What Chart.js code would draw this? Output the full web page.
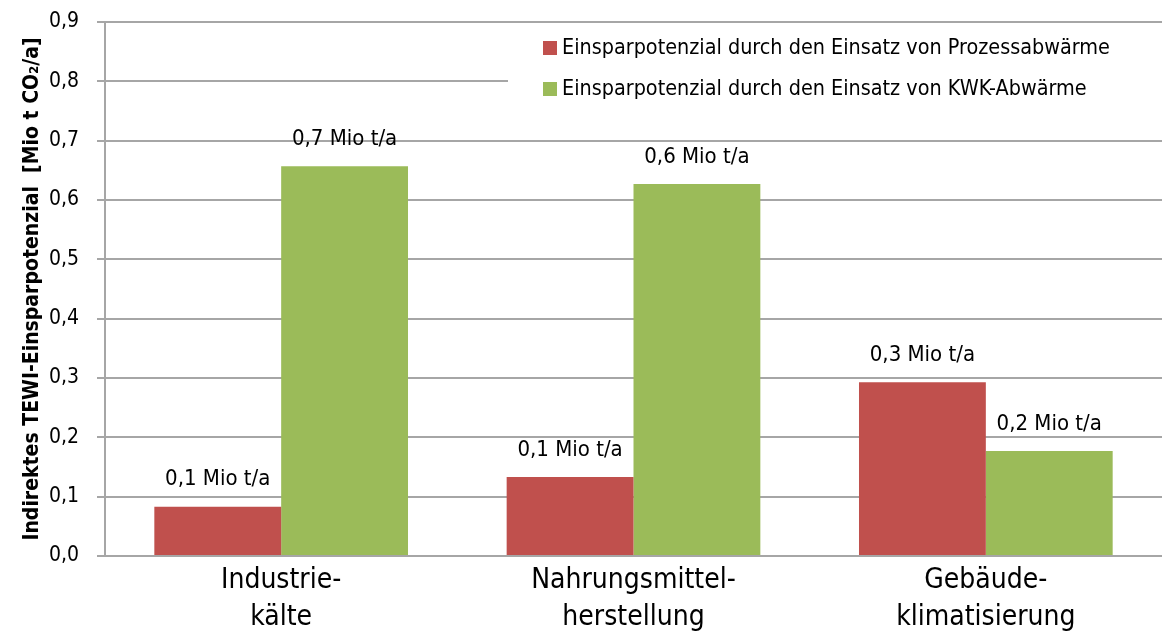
<!DOCTYPE html>
<html>
<head>
<meta charset="utf-8">
<script src="https://cdn.jsdelivr.net/npm/chart.js@4"></script>
<style>
  html, body { margin: 0; padding: 0; background: #fff; }
  #wrap { width: 1162px; height: 634px; position: relative; }
</style>
</head>
<body>
<div id="wrap"><canvas id="c"></canvas></div>
<script>
// --- DATEN ---
const categories = [['Industrie-', 'kälte'], ['Nahrungsmittel-', 'herstellung'], ['Gebäude-', 'klimatisierung']];
const seriesNames = [
  'Einsparpotenzial durch den Einsatz von Prozessabwärme',
  'Einsparpotenzial durch den Einsatz von KWK-Abwärme'
];
const prozessWerte = [0.083, 0.133, 0.293];
const kwkWerte = [0.657, 0.627, 0.177];
const prozessLabels = ['0,1 Mio t/a', '0,1 Mio t/a', '0,3 Mio t/a'];
const kwkLabels = ['0,7 Mio t/a', '0,6 Mio t/a', '0,2 Mio t/a'];
const yTitle = 'Indirektes TEWI-Einsparpotenzial  [Mio t CO₂/a]';

const FONT = '"DejaVu Sans Condensed", "Liberation Sans Narrow", sans-serif';
const ROT = '#C0504D';
const GRUEN = '#9BBB59';
const GRID = '#A6A6A6';

// Beschriftungen über den Balken
const valueLabels = {
  id: 'valueLabels',
  afterDatasetsDraw(chart) {
    const ctx = chart.ctx;
    const texts = [prozessLabels, kwkLabels];
    ctx.save();
    ctx.font = '22px ' + FONT;
    ctx.fillStyle = '#000';
    ctx.textAlign = 'center';
    ctx.textBaseline = 'middle';
    chart.data.datasets.forEach((ds, di) => {
      chart.getDatasetMeta(di).data.forEach((bar, i) => {
        ctx.fillText(texts[di][i], bar.x, bar.y - 27);
      });
    });
    ctx.restore();
  }
};

// Legende mit weißem Hintergrund (verdeckt Gitterlinien)
const boxLegend = {
  id: 'boxLegend',
  afterDraw(chart) {
    const ctx = chart.ctx;
    ctx.save();
    ctx.fillStyle = '#fff';
    ctx.fillRect(508, 27, 654, 86);
    ctx.font = '21.4px ' + FONT;
    ctx.textBaseline = 'middle';
    ctx.textAlign = 'left';
    const rows = [48, 89];
    chart.data.datasets.forEach((ds, i) => {
      ctx.fillStyle = ds.backgroundColor;
      ctx.fillRect(543, rows[i] - 7, 14, 14);
      ctx.fillStyle = '#000';
      ctx.fillText(ds.label, 562, rows[i]);
    });
    ctx.restore();
  }
};

new Chart(document.getElementById('c'), {
  type: 'bar',
  data: {
    labels: categories,
    datasets: [
      { label: seriesNames[0], data: prozessWerte, backgroundColor: ROT },
      { label: seriesNames[1], data: kwkWerte, backgroundColor: GRUEN }
    ]
  },
  options: {
    responsive: true,
    maintainAspectRatio: false,
    animation: false,
    devicePixelRatio: 1,
    layout: { padding: { top: 22, right: 0, left: 0, bottom: 0 } },
    datasets: { bar: { categoryPercentage: 0.72, barPercentage: 1.0 } },
    plugins: { legend: { display: false }, tooltip: { enabled: false } },
    scales: {
      x: {
        grid: { display: false, drawTicks: false },
        border: { color: GRID, width: 2 },
        ticks: { color: '#000', font: { family: FONT, size: 28, lineHeight: 1.3 }, padding: 7, maxRotation: 0 },
        afterFit(s) { s.height = 78; }
      },
      y: {
        min: 0, max: 0.9,
        grid: { color: GRID, lineWidth: 2, tickLength: 8 },
        border: { color: GRID, width: 2 },
        ticks: {
          stepSize: 0.1, color: '#000', padding: 18,
          font: { family: FONT, size: 21 },
          callback: v => v.toFixed(1).replace('.', ',')
        },
        title: {
          display: true, text: yTitle, color: '#000', padding: { top: 20, bottom: 0 },
          font: { family: FONT, size: 21, weight: 'bold' }
        },
        afterFit(s) { s.width = 105; s.paddingTop = 0; s.paddingBottom = 0; }
      }
    }
  },
  plugins: [valueLabels, boxLegend]
});
</script>
</body>
</html>
